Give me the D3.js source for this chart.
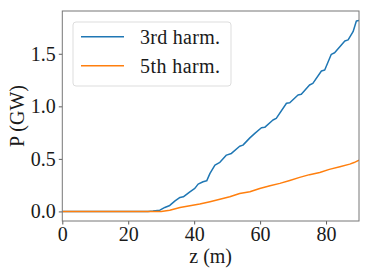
<!DOCTYPE html>
<html><head><meta charset="utf-8">
<script src="https://cdn.jsdelivr.net/npm/d3@7"></script>
<style>html,body{margin:0;padding:0;background:#fff}</style>
</head><body>
<svg id="c" width="370" height="278"></svg>
<script>
const z3 = [0, 26, 27.5, 29.6, 31.1, 32.6, 34.2, 35.7, 36.7, 38.7, 40.2, 41.2, 42.7, 43.8, 44.8, 46.3, 47.8, 49.8, 51.3, 53.8, 54.8, 56.9, 58.4, 60.4, 61.4, 63.9, 64.9, 68, 69, 71.5, 72.5, 75, 76, 78.6, 79.6, 81.6, 82.6, 85.7, 86.7, 88.2, 89.2, 90];
const p3 = [0, 0, 0.004, 0.012, 0.038, 0.057, 0.10, 0.133, 0.139, 0.187, 0.219, 0.26, 0.282, 0.291, 0.362, 0.441, 0.467, 0.536, 0.552, 0.62, 0.631, 0.70, 0.743, 0.796, 0.80, 0.87, 0.886, 1.029, 1.034, 1.108, 1.114, 1.203, 1.219, 1.336, 1.346, 1.495, 1.51, 1.622, 1.632, 1.71, 1.812, 1.816];
const z5 = [0, 30, 32.6, 35.7, 38.7, 41.7, 44.8, 47.8, 50.8, 53.8, 56.9, 59.9, 63, 66, 69, 72, 75, 78.1, 81, 84.2, 87.2, 88.5, 90];
const p5 = [0, 0, 0.012, 0.038, 0.055, 0.07, 0.092, 0.115, 0.139, 0.171, 0.187, 0.219, 0.245, 0.267, 0.295, 0.324, 0.35, 0.371, 0.40, 0.425, 0.45, 0.465, 0.487];
const xTicks = [0, 20, 40, 60, 80];
const yTicks = [0.0, 0.5, 1.0, 1.5];
const seriesNames = ["3rd harm.", "5th harm."];
const colors = ["#1f77b4", "#ff7f0e"];

const svg = d3.select("#c");
const L = 62.3, R = 359, T = 11, B = 221;
const x = d3.scaleLinear().domain([0, 90]).range([L, R]);
const y = d3.scaleLinear().domain([-0.091, 1.907]).range([B, T]);
const FF = '"Liberation Serif"';
const FS = "20px";
const ink = "#1a1a1a";

const line = d3.line().x(d => x(d[0])).y(d => y(d[1]));
const series = [d3.zip(z3, p3), d3.zip(z5, p5)];
const plot = svg.append("g");
plot.append("clipPath").attr("id","clip").append("rect").attr("x",L).attr("y",T).attr("width",R-L).attr("height",B-T);
series.forEach((s, i) => {
  plot.append("path").attr("d", line(s)).attr("fill","none").attr("stroke",colors[i])
    .attr("stroke-width",1.5).attr("stroke-linejoin","round").attr("clip-path","url(#clip)");
});

const xa = svg.append("g").attr("transform",`translate(0,${B})`)
  .call(d3.axisBottom(x).tickValues(xTicks).tickSize(3.5).tickPadding(2).tickFormat(d3.format("d")));
const ya = svg.append("g").attr("transform",`translate(${L},0)`)
  .call(d3.axisLeft(y).tickValues(yTicks).tickSize(3.5).tickPadding(3).tickFormat(d3.format(".1f")));
[xa, ya].forEach(a => {
  a.select(".domain").remove();
  a.selectAll(".tick line").attr("stroke","#333").attr("stroke-width",0.8);
  a.selectAll(".tick text").style("font-family",FF).style("font-size",FS).attr("fill",ink);
});

svg.append("rect").attr("x",L).attr("y",T).attr("width",R-L).attr("height",B-T)
  .attr("fill","none").attr("stroke","#777").attr("stroke-width",1);

svg.append("text").attr("x",(L+R)/2).attr("y",263).attr("text-anchor","middle")
  .style("font-family",FF).style("font-size",FS).attr("fill",ink).text("z (m)");
svg.append("text").attr("transform",`translate(24,${(T+B)/2}) rotate(-90)`).attr("text-anchor","middle")
  .style("font-family",FF).style("font-size",FS).attr("fill",ink).text("P (GW)");

const lg = svg.append("g");
lg.append("rect").attr("x",73).attr("y",22).attr("width",158).attr("height",64).attr("rx",3)
  .attr("fill","#fff").attr("fill-opacity",0.8).attr("stroke","#ddd").attr("stroke-width",1);
seriesNames.forEach((n, i) => {
  const yy = 36.7 + i*29;
  lg.append("line").attr("x1",81).attr("x2",124).attr("y1",yy).attr("y2",yy)
    .attr("stroke",colors[i]).attr("stroke-width",1.5);
  lg.append("text").attr("x",140).attr("y",yy+7.5).style("font-family",FF).style("font-size",FS)
    .attr("fill",ink).attr("textLength",80).text(n);
});
</script>
</body></html>
